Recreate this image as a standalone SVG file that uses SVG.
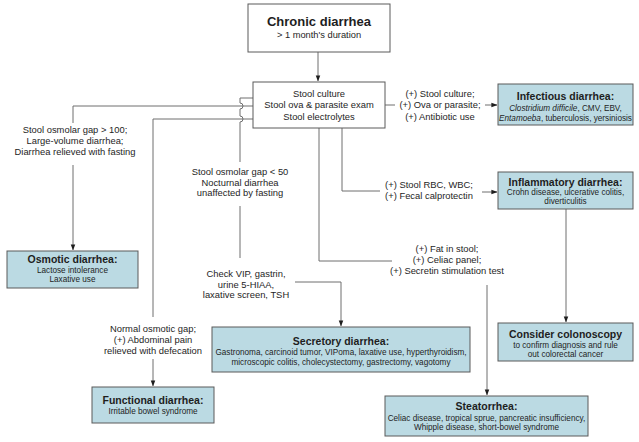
<svg xmlns="http://www.w3.org/2000/svg" width="639" height="442" viewBox="0 0 639 442">
<defs>
<style>
text{font-family:"Liberation Sans",Arial,sans-serif;fill:#1e1e1e;text-anchor:middle}
.t{font-size:10.5px;font-weight:bold}
.s{font-size:8.2px}
.b{font-size:9.4px}
.box{fill:#bbdae3;stroke:#5a5a5a;stroke-width:1}
.wbox{fill:#fff;stroke:#5a5a5a;stroke-width:1}
.c{fill:none;stroke:#6e6e6e;stroke-width:1}
</style>
<marker id="ah" viewBox="0 0 8 8" refX="7.5" refY="4" markerWidth="6" markerHeight="6" orient="auto" markerUnits="userSpaceOnUse">
<path d="M0,1 L8,4 L0,7 Z" fill="#1e1e1e"/>
</marker>
</defs>
<rect width="639" height="442" fill="#fff"/>

<g id="connectors">
<path class="c" d="M318,52 V81" marker-end="url(#ah)"/>
<path class="c" d="M385,105 H395"/>
<path class="c" d="M485,105 H497" marker-end="url(#ah)"/>
<path class="c" d="M253,106 H73 V123"/>
<path class="c" d="M73,165 V250" marker-end="url(#ah)"/>
<path class="c" d="M253,119 H153 V317"/>
<path class="c" d="M153,359 V386" marker-end="url(#ah)"/>
<path class="c" d="M253,98 H240 V103 A3,3 0 0 1 240,109 V116 A3,3 0 0 1 240,122 V162"/>
<path class="c" d="M240,206 V258"/>
<path class="c" d="M295,282 H341 V326" marker-end="url(#ah)"/>
<path class="c" d="M319,128 V261 H392"/>
<path class="c" d="M487,285 V395" marker-end="url(#ah)"/>
<path class="c" d="M342,128 V191 H380"/>
<path class="c" d="M482,192 H497" marker-end="url(#ah)"/>
<path class="c" d="M566,209 V322" marker-end="url(#ah)"/>
<text class="b" x="75" y="133">Stool osmolar gap &gt; 100;</text>
<text class="b" x="75" y="144">Large-volume diarrhea;</text>
<text class="b" x="75" y="155">Diarrhea relieved with fasting</text>
<text class="b" x="240" y="175">Stool osmolar gap &lt; 50</text>
<text class="b" x="240" y="185.5">Nocturnal diarrhea</text>
<text class="b" x="240" y="196">unaffected by fasting</text>
<text class="b" x="246" y="277">Check VIP, gastrin,</text>
<text class="b" x="246" y="287.5">urine 5-HIAA,</text>
<text class="b" x="246" y="298">laxative screen, TSH</text>
<text class="b" x="153" y="332">Normal osmotic gap;</text>
<text class="b" x="153" y="343">(+) Abdominal pain</text>
<text class="b" x="153" y="354">relieved with defecation</text>
<text class="b" x="440" y="96.5">(+) Stool culture;</text>
<text class="b" x="440" y="108">(+) Ova or parasite;</text>
<text class="b" x="440" y="119.5">(+) Antibiotic use</text>
<text class="b" x="429" y="188">(+) Stool RBC, WBC;</text>
<text class="b" x="429" y="199">(+) Fecal calprotectin</text>
<text class="b" x="447" y="252">(+) Fat in stool;</text>
<text class="b" x="447" y="263">(+) Celiac panel;</text>
<text class="b" x="447" y="274">(+) Secretin stimulation test</text>
</g>

<g id="chronic">
<rect class="wbox" x="248" y="4" width="142" height="48"/>
<text x="319" y="26" style="font-size:13px;font-weight:bold">Chronic diarrhea</text>
<text x="319" y="37.5" style="font-size:9.3px">&gt; 1 month's duration</text>
</g>

<g id="stool-tests">
<rect class="wbox" x="253" y="82" width="132" height="46"/>
<text class="b" x="319" y="96.5">Stool culture</text>
<text class="b" x="319" y="108">Stool ova &amp; parasite exam</text>
<text class="b" x="319" y="119.5">Stool electrolytes</text>
</g>

<g id="infectious">
<rect class="box" x="498" y="84" width="135" height="41"/>
<text class="t" x="565.5" y="100">Infectious diarrhea:</text>
<text class="s" x="565.5" y="110.5"><tspan font-style="italic">Clostridium difficile</tspan>, CMV, EBV,</text>
<text class="s" x="565.5" y="120.5"><tspan font-style="italic">Entamoeba</tspan>, tuberculosis, yersiniosis</text>
</g>

<g id="inflammatory">
<rect class="box" x="498" y="172" width="135" height="37"/>
<text class="t" x="565.5" y="185.5">Inflammatory diarrhea:</text>
<text class="s" x="565.5" y="195">Crohn disease, ulcerative colitis,</text>
<text class="s" x="565.5" y="204">diverticulitis</text>
</g>

<g id="osmotic">
<rect class="box" x="7" y="251" width="131" height="37"/>
<text class="t" x="72.5" y="263">Osmotic diarrhea:</text>
<text class="s" x="72.5" y="273">Lactose intolerance</text>
<text class="s" x="72.5" y="282">Laxative use</text>
</g>

<g id="secretory">
<rect class="box" x="212" y="327" width="258" height="45"/>
<text class="t" x="341" y="345">Secretory diarrhea:</text>
<text class="s" x="341" y="355">Gastronoma, carcinoid tumor, VIPoma, laxative use, hyperthyroidism,</text>
<text class="s" x="341" y="365">microscopic colitis, cholecystectomy, gastrectomy, vagotomy</text>
</g>

<g id="colonoscopy">
<rect class="box" x="498" y="323" width="135" height="38"/>
<text class="t" x="565.5" y="338">Consider colonoscopy</text>
<text class="s" x="565.5" y="348">to confirm diagnosis and rule</text>
<text class="s" x="565.5" y="357">out colorectal cancer</text>
</g>

<g id="functional">
<rect class="box" x="92" y="387" width="122" height="36"/>
<text class="t" x="153" y="404">Functional diarrhea:</text>
<text class="s" x="153" y="414">Irritable bowel syndrome</text>
</g>

<g id="steatorrhea">
<rect class="box" x="385" y="396" width="203" height="40"/>
<text class="t" x="486.5" y="410">Steatorrhea:</text>
<text class="s" x="486.5" y="420.5">Celiac disease, tropical sprue, pancreatic insufficiency,</text>
<text class="s" x="486.5" y="430">Whipple disease, short-bowel syndrome</text>
</g>
</svg>
